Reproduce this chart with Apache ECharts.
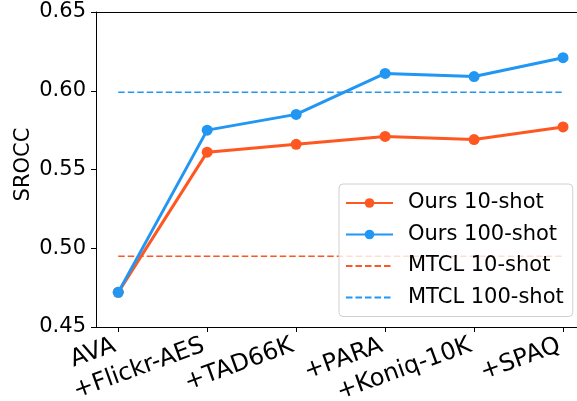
<!DOCTYPE html>
<html>
<head>
<meta charset="utf-8">
<script src="https://cdn.jsdelivr.net/npm/echarts@6/dist/echarts.min.js"></script>
<style>html,body{margin:0;padding:0;background:#fff;}#c{width:577px;height:401px;}</style>
</head>
<body>
<div id="c"></div>
<script>
const categories = ['AVA', '+Flickr-AES', '+TAD66K', '+PARA', '+Koniq-10K', '+SPAQ'];
const ours10 = [0.472, 0.561, 0.566, 0.571, 0.569, 0.577];
const ours100 = [0.472, 0.575, 0.585, 0.611, 0.609, 0.621];
const mtcl10 = 0.495;
const mtcl100 = 0.599;
const yTicks = [0.45, 0.50, 0.55, 0.60, 0.65];

const ORANGE = '#FF5722';
const BLUE = '#2196F3';
const FONT = 'DejaVu Sans';
const idx = categories.map((_, i) => i);
const pts = arr => arr.map((v, i) => [i, v]);
const flat = v => [[0, v], [categories.length - 1, v]];

const chart = echarts.init(document.getElementById('c'), null, {renderer: 'canvas'});
chart.setOption({
  animation: false,
  backgroundColor: '#fff',
  grid: {left: 96, top: 12, right: 0, bottom: 74, containLabel: false, outerBoundsMode: 'none'},
  xAxis: [{
    type: 'value', min: -0.25, max: 5.157,
    axisLine: {show: true, onZero: false, lineStyle: {color: '#000', width: 1}},
    axisTick: {show: true, customValues: idx, length: 5, lineStyle: {color: '#000'}},
    axisLabel: {show: true, customValues: idx, rotate: 20, margin: 4,
      align: 'right', verticalAlign: 'top', padding: [0, 8, 0, 0], lineHeight: 24,
      fontFamily: FONT, fontSize: 24, color: '#000', hideOverlap: false,
      formatter: v => categories[Math.round(v)]},
    splitLine: {show: false}
  }, {
    type: 'value', position: 'top', min: -0.25, max: 5.157,
    axisLine: {show: true, onZero: false, lineStyle: {color: '#000', width: 1}},
    axisTick: {show: false}, axisLabel: {show: false}, splitLine: {show: false}
  }],
  yAxis: {
    type: 'value', min: 0.45, max: 0.65, interval: 0.05,
    name: 'SROCC', nameLocation: 'middle', nameGap: 62, nameMoveOverlap: false,
    nameTextStyle: {fontFamily: FONT, fontSize: 21, color: '#000', padding: [0, 0, 0, 10]},
    axisLine: {show: true, onZero: false, lineStyle: {color: '#000', width: 1}},
    axisTick: {show: true, length: 5, lineStyle: {color: '#000'}},
    axisLabel: {margin: 10, fontFamily: FONT, fontSize: 21, color: '#000',
      formatter: v => v.toFixed(2)},
    splitLine: {show: false}
  },
  legend: {
    left: 339, top: 184, orient: 'vertical',
    backgroundColor: 'rgba(255,255,255,0.8)', borderColor: '#d0d0d0', borderWidth: 1,
    borderRadius: 4, padding: [8, 9, 8, 6],
    itemWidth: 47, itemHeight: 12, itemGap: 9.5,
    textStyle: {fontFamily: FONT, fontSize: 21, color: '#000', lineHeight: 22, padding: [0, 0, 0, 10]},
    data: [
      {name: 'Ours 10-shot'},
      {name: 'Ours 100-shot'},
      {name: 'MTCL 10-shot', itemStyle: {opacity: 0}},
      {name: 'MTCL 100-shot', itemStyle: {opacity: 0}}
    ]
  },
  series: [
    {name: 'Ours 10-shot', type: 'line', data: pts(ours10), color: ORANGE,
      symbol: 'circle', symbolSize: 11, showSymbol: true,
      lineStyle: {width: 3, color: ORANGE}, itemStyle: {color: ORANGE}, z: 3},
    {name: 'Ours 100-shot', type: 'line', data: pts(ours100), color: BLUE,
      symbol: 'circle', symbolSize: 11, showSymbol: true,
      lineStyle: {width: 3, color: BLUE}, itemStyle: {color: BLUE}, z: 4},
    {name: 'MTCL 10-shot', type: 'line', data: flat(mtcl10), color: ORANGE,
      symbol: 'none', lineStyle: {width: 1.5, type: [6.5, 3], color: ORANGE}, z: 2},
    {name: 'MTCL 100-shot', type: 'line', data: flat(mtcl100), color: BLUE,
      symbol: 'none', lineStyle: {width: 1.5, type: [6.5, 3], color: BLUE}, z: 2}
  ]
});
</script>
</body>
</html>
